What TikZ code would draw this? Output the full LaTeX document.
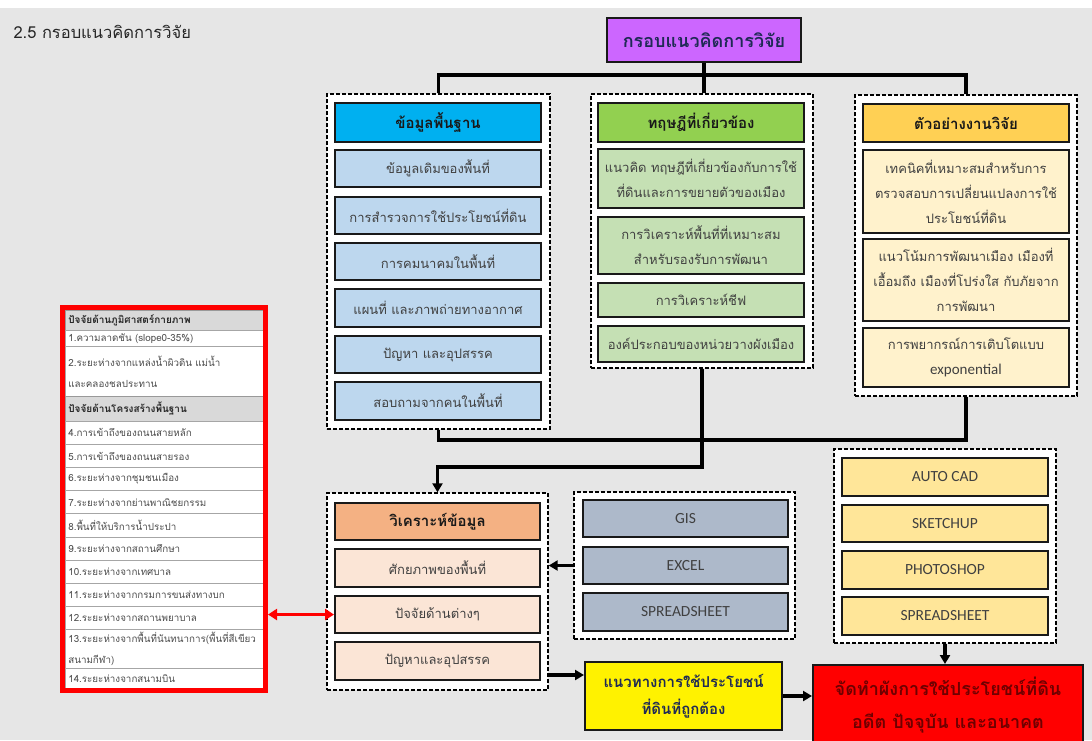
\documentclass[tikz,border=0pt]{standalone}
\usepackage{fontspec}
\setmainfont[Script=Thai]{Loma}
\newfontfamily\calfont{Carlito}
\usetikzlibrary{arrows.meta}
\definecolor{bgc}{HTML}{E6E6E6}
\definecolor{cpurple}{HTML}{CC66FF}
\definecolor{ccyan}{HTML}{00B0F0}
\definecolor{clblue}{HTML}{BDD7EE}
\definecolor{cgreen}{HTML}{92D050}
\definecolor{clgreen}{HTML}{C5E0B4}
\definecolor{cgold}{HTML}{FFD054}
\definecolor{ccream}{HTML}{FFF2CC}
\definecolor{corange}{HTML}{F4B183}
\definecolor{cpeach}{HTML}{FBE5D6}
\definecolor{cbgray}{HTML}{ADB9CA}
\definecolor{csoft}{HTML}{FFE699}
\definecolor{cnavy}{HTML}{1F2A55}
\definecolor{cdred}{HTML}{6E0000}
\definecolor{ctxt}{HTML}{404040}
\begin{document}
\begin{tikzpicture}[x=1pt,y=-1pt,
  grp/.style={draw=black, line width=1.4pt, dash pattern=on 4pt off 2pt, fill=white, inner sep=0pt},
  bx/.style={draw=black!90, line width=2pt, minimum width=206pt, align=center, inner sep=1pt,
             text=ctxt, font=\fontsize{13}{25}\selectfont},
  hd/.style={bx, text=black!90, font=\bfseries\fontsize{15}{18}\selectfont},
  conn/.style={line width=3.2pt, black},
  arr/.style={conn, -{Triangle[length=9pt,width=10pt]}},
  redarr/.style={line width=3.4pt, red, {Triangle[length=9pt,width=11pt]}-{Triangle[length=9pt,width=11pt]}},
  tr/.style={draw=gray!70, line width=0.7pt, fill=white, minimum width=198pt, text width=192pt, align=left,
             inner sep=3pt, anchor=north west, text=black!70, font=\fontsize{9.8}{21}\selectfont},
  th/.style={tr, fill=gray!30, draw=gray!80, text=black!85, font=\bfseries\fontsize{10}{12}\selectfont}
]
\useasboundingbox (0,0) rectangle (1092,740);
\clip (0,0) rectangle (1092,740);
\fill[bgc] (0,0) rectangle (1092,740);
\fill[white] (0,0) rectangle (1092,8);

\node[anchor=west, text=black!85, font=\fontsize{16.5}{19}\selectfont] (title) at (10,32) {2.5 กรอบแนวคิดการวิจัย};

% top box
\node[draw=black!90, line width=2pt, fill=cpurple, minimum width=194pt, minimum height=44pt,
      text=cnavy, font=\bfseries\fontsize{18}{22}\selectfont] (top) at (704,40) {กรอบแนวคิดการวิจัย};

% groups
\node[grp, minimum width=223pt, minimum height=335pt] (lg) at (438.5,261.5) {};
\node[grp, minimum width=222pt, minimum height=274pt] (mg) at (702,231) {};
\node[grp, minimum width=222pt, minimum height=301pt] (rg) at (966,245.5) {};
\node[grp, minimum width=221pt, minimum height=197pt] (ag) at (437.5,591.5) {};
\node[grp, minimum width=221pt, minimum height=147pt] (tg) at (684.5,565.5) {};
\node[grp, minimum width=222pt, minimum height=194pt] (sg) at (945,546) {};

% left column
\node[hd, fill=ccyan, minimum height=39pt] (lhead) at (438,122.5) {ข้อมูลพื้นฐาน};
\node[bx, fill=clblue, minimum height=37pt] (l1) at (438,168.5) {ข้อมูลเดิมของพื้นที่};
\node[bx, fill=clblue, minimum height=37pt] (l2) at (438,215.5) {การสำรวจการใช้ประโยชน์ที่ดิน};
\node[bx, fill=clblue, minimum height=37pt] (l3) at (438,261.5) {การคมนาคมในพื้นที่};
\node[bx, fill=clblue, minimum height=38pt] (l4) at (438,308) {แผนที่ และภาพถ่ายทางอากาศ};
\node[bx, fill=clblue, minimum height=37pt] (l5) at (438,354.5) {ปัญหา และอุปสรรค};
\node[bx, fill=clblue, minimum height=38pt] (l6) at (438,401) {สอบถามจากคนในพื้นที่};

% middle column
\node[hd, fill=cgreen, minimum height=39pt] (mhead) at (701,122.5) {ทฤษฎีที่เกี่ยวข้อง};
\node[bx, fill=clgreen, minimum height=59pt] (m1) at (701,178.5) {แนวคิด ทฤษฎีที่เกี่ยวข้องกับการใช้\\ที่ดินและการขยายตัวของเมือง};
\node[bx, fill=clgreen, minimum height=57pt] (m2) at (701,245.5) {การวิเคราะห์พื้นที่ที่เหมาะสม\\สำหรับรองรับการพัฒนา};
\node[bx, fill=clgreen, minimum height=34pt] (m3) at (701,300) {การวิเคราะห์ชีฟ};
\node[bx, fill=clgreen, minimum height=36pt] (m4) at (701,344) {องค์ประกอบของหน่วยวางผังเมือง};

% right column
\node[hd, fill=cgold, minimum height=38pt] (rhead) at (966,123) {ตัวอย่างงานวิจัย};
\node[bx, fill=ccream, minimum height=83pt] (r1) at (966,191.5) {เทคนิคที่เหมาะสมสำหรับการ\\ตรวจสอบการเปลี่ยนแปลงการใช้\\ประโยชน์ที่ดิน};
\node[bx, fill=ccream, minimum height=82pt] (r2) at (966,280) {แนวโน้มการพัฒนาเมือง เมืองที่\\เอื้อมถึง เมืองที่โปร่งใส กับภัยจาก\\การพัฒนา};
\node[bx, fill=ccream, minimum height=59pt] (r3) at (966,357.5) {การพยากรณ์การเติบโตแบบ\\{\calfont\fontsize{15}{25}\selectfont exponential}};

% analysis column
\node[hd, fill=corange, minimum width=205pt, minimum height=37pt] (ahead) at (437.5,521.5) {วิเคราะห์ข้อมูล};
\node[bx, fill=cpeach, minimum width=205pt, minimum height=38pt] (a1) at (437.5,568) {ศักยภาพของพื้นที่};
\node[bx, fill=cpeach, minimum width=205pt, minimum height=37pt] (a2) at (437.5,614.5) {ปัจจัยด้านต่างๆ};
\node[bx, fill=cpeach, minimum width=205pt, minimum height=38pt] (a3) at (437.5,661) {ปัญหาและอุปสรรค};

% tools
\node[bx, fill=cbgray, minimum width=205pt, minimum height=37pt, font=\calfont\fontsize{15.5}{18}\selectfont] (t1) at (685.5,518.5) {GIS};
\node[bx, fill=cbgray, minimum width=205pt, minimum height=37pt, font=\calfont\fontsize{15.5}{18}\selectfont] (t2) at (685.5,565.5) {EXCEL};
\node[bx, fill=cbgray, minimum width=205pt, minimum height=38pt, font=\calfont\fontsize{15.5}{18}\selectfont] (t3) at (685.5,612) {SPREADSHEET};

% software
\node[bx, fill=csoft, minimum height=38pt, font=\calfont\fontsize{15.5}{18}\selectfont] (s1) at (945,477) {AUTO CAD};
\node[bx, fill=csoft, minimum height=37pt, font=\calfont\fontsize{15.5}{18}\selectfont] (s2) at (945,523.5) {SKETCHUP};
\node[bx, fill=csoft, minimum height=38pt, font=\calfont\fontsize{15.5}{18}\selectfont] (s3) at (945,570) {PHOTOSHOP};
\node[bx, fill=csoft, minimum height=38pt, font=\calfont\fontsize{15.5}{18}\selectfont] (s4) at (945,616) {SPREADSHEET};

% outcome boxes
\node[draw=black!90, line width=2pt, fill=yellow, minimum width=197pt, minimum height=68pt, align=center,
      text=cnavy, font=\bfseries\fontsize{15}{27}\selectfont] (yl) at (683.5,696) {แนวทางการใช้ประโยชน์\\ที่ดินที่ถูกต้อง};
\node[draw=black!90, line width=2pt, fill=red, minimum width=270pt, minimum height=80pt, align=center,
      text=cdred, font=\bfseries\fontsize{18}{33}\selectfont] (rd) at (948,705) {จัดทำผังการใช้ประโยชน์ที่ดิน\\อดีต ปัจจุบัน และอนาคต};

% factor table
\node[th, minimum height=20pt] (th1) at (65,310) {ปัจจัยด้านภูมิศาสตร์กายภาพ};
\node[tr, minimum height=16pt] (f1) at (65,330) {1.ความลาดชัน (slope0-35\%)};
\node[tr, minimum height=50pt] (f2) at (65,346) {2.ระยะห่างจากแหล่งน้ำผิวดิน แม่น้ำ\\และคลองชลประทาน};
\node[th, minimum height=25pt] (th2) at (65,396) {ปัจจัยด้านโครงสร้างพื้นฐาน};
\node[tr, minimum height=23.1pt] (f4) at (65,421) {4.การเข้าถึงของถนนสายหลัก};
\node[tr, minimum height=23.1pt] (f5) at (65,444.1) {5.การเข้าถึงของถนนสายรอง};
\node[tr, minimum height=23.1pt] (f6) at (65,467.2) {6.ระยะห่างจากชุมชนเมือง};
\node[tr, minimum height=23.1pt] (f7) at (65,490.3) {7.ระยะห่างจากย่านพาณิชยกรรม};
\node[tr, minimum height=23.1pt] (f8) at (65,513.4) {8.พื้นที่ให้บริการน้ำประปา};
\node[tr, minimum height=23.1pt] (f9) at (65,536.5) {9.ระยะห่างจากสถานศึกษา};
\node[tr, minimum height=23.1pt] (f10) at (65,559.6) {10.ระยะห่างจากเทศบาล};
\node[tr, minimum height=23.1pt] (f11) at (65,582.7) {11.ระยะห่างจากกรมการขนส่งทางบก};
\node[tr, minimum height=23.1pt] (f12) at (65,605.8) {12.ระยะห่างจากสถานพยาบาล};
\node[tr, minimum height=39pt] (f13) at (65,629) {13.ระยะห่างจากพื้นที่นันทนาการ(พื้นที่สีเขียว\\สนามกีฬา)};
\node[tr, minimum height=20pt] (f14) at (65,668) {14.ระยะห่างจากสนามบิน};
\node[draw=red, line width=5pt, minimum width=203pt, minimum height=383pt, inner sep=0pt] (tbl) at (164,499) {};

% connectors
\coordinate (bus) at (0,75);
\coordinate (bot) at (0,440);
\coordinate (mid2) at (0,467);
\coordinate (ya) at (0,675);
\draw[conn] (top.south) -- (top.south |- mg.north);
\draw[conn] (lg.north) |- (rg.north |- bus) -- (rg.north);
\draw[conn] (lg.south) |- (rg.south |- bot) -- (rg.south);
\draw[conn] (mg.south) -- (mg.south |- bot);
\draw[arr] (mg.south |- bot) -- (mg.south |- mid2) -| (ag.north);
\draw[arr] (tg.west) -- (ag.east |- tg.west);
\draw[arr] (ag.east |- ya) -- (yl.west |- ya);
\draw[arr] (yl.east) -- (rd.west |- yl.east);
\draw[arr] (sg.south) -- (sg.south |- rd.north);
\draw[redarr] (tbl.east |- a2) -- (a2.west);
\end{tikzpicture}
\end{document}
